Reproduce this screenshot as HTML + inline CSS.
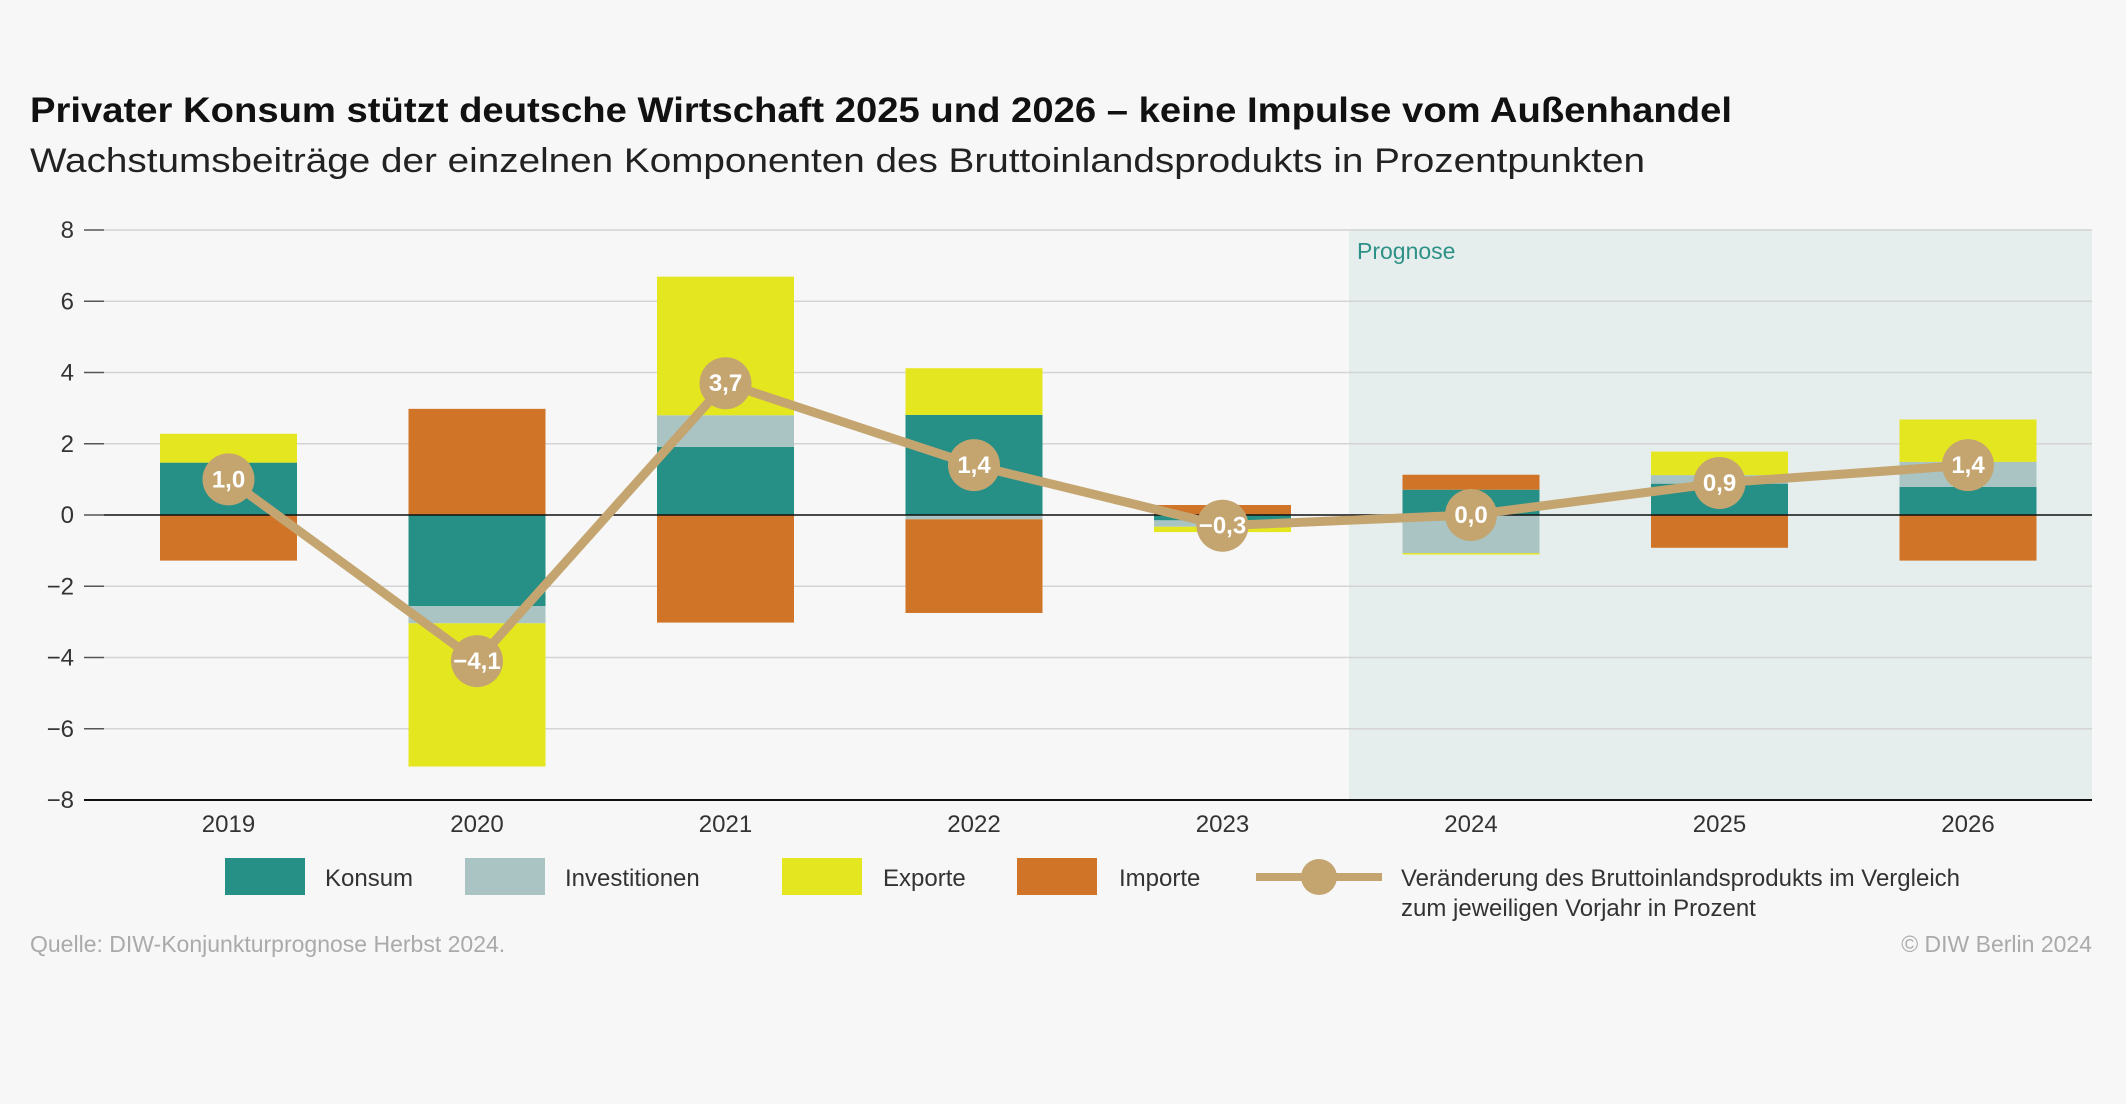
<!DOCTYPE html>
<html><head><meta charset="utf-8"><style>
body{margin:0;background:#f7f7f7;}
svg{display:block;font-family:"Liberation Sans",sans-serif;}
</style></head><body>
<svg id="chart" width="2126" height="1104" viewBox="0 0 2126 1104">
<rect width="2126" height="1104" fill="#f7f7f7"/>
<text x="30" y="122" font-size="35" font-weight="bold" fill="#111" textLength="1702" lengthAdjust="spacingAndGlyphs">Privater Konsum stützt deutsche Wirtschaft 2025 und 2026 – keine Impulse vom Außenhandel</text>
<text x="30" y="172" font-size="34" fill="#222" textLength="1615" lengthAdjust="spacingAndGlyphs">Wachstumsbeiträge der einzelnen Komponenten des Bruttoinlandsprodukts in Prozentpunkten</text>
<rect x="1349" y="230" width="743" height="570" fill="#e5eeec"/>
<text x="1357" y="259" font-size="23" fill="#2e9188">Prognose</text>
<g id="grid"></g>
<g id="bars"></g>
<g id="line"></g>
<g font-size="24" fill="#333">
<rect x="225" y="858" width="80" height="37" fill="#268f86"/>
<text x="325" y="886">Konsum</text>
<rect x="465" y="858" width="80" height="37" fill="#a9c4c3"/>
<text x="565" y="886">Investitionen</text>
<rect x="782" y="858" width="80" height="37" fill="#e4e620"/>
<text x="883" y="886">Exporte</text>
<rect x="1017" y="858" width="80" height="37" fill="#d07428"/>
<text x="1119" y="886">Importe</text>
<line x1="1256" y1="877" x2="1382" y2="877" stroke="#c4a570" stroke-width="8"/>
<circle cx="1319" cy="877" r="18" fill="#c4a570"/>
<text x="1401" y="886">Veränderung des Bruttoinlandsprodukts im Vergleich</text>
<text x="1401" y="916">zum jeweiligen Vorjahr in Prozent</text>
</g>
<text x="30" y="952" font-size="23" fill="#aaa">Quelle: DIW-Konjunkturprognose Herbst 2024.</text>
<text x="2092" y="952" font-size="23" fill="#aaa" text-anchor="end">© DIW Berlin 2024</text>
</svg>
<script>
const years=["2019","2020","2021","2022","2023","2024","2025","2026"];
const konsum=[1.47,-2.56,1.91,2.81,-0.15,0.71,0.88,0.79];
const investitionen=[0,-0.48,0.89,-0.12,-0.18,-1.07,0.24,0.7];
const exporte=[0.81,-4.02,3.89,1.31,-0.15,-0.04,0.66,1.19];
const importe=[-1.28,2.98,-3.02,-2.63,0.28,0.42,-0.92,-1.28];
const gdp=[1.0,-4.1,3.7,1.4,-0.3,0.0,0.9,1.4];
const gdpLabels=["1,0","−4,1","3,7","1,4","−0,3","0,0","0,9","1,4"];
const yTicks=[8,6,4,2,0,-2,-4,-6,-8];
const yTickLabels=["8","6","4","2","0","−2","−4","−6","−8"];

const NS="http://www.w3.org/2000/svg";
const yMin=-8,yMax=8,plotTop=230,plotBot=800,plotLeft=104,plotRight=2092;
const yScale=v=>plotBot-(v-yMin)/(yMax-yMin)*(plotBot-plotTop);
const step=248.5,x0=228.5,bw=137;
const xScale=i=>x0+i*step;
function mk(tag,attrs,parent){const e=document.createElementNS(NS,tag);for(const k in attrs)e.setAttribute(k,attrs[k]);parent.appendChild(e);return e;}
const grid=document.getElementById('grid'),bars=document.getElementById('bars'),line=document.getElementById('line');
yTicks.forEach((t,i)=>{
  if(t!==0&&t!==-8){const g=mk('line',{x1:plotLeft,x2:plotRight,y1:yScale(t),y2:yScale(t),stroke:'#d4d4d4','stroke-width':1.5},grid);
  
  }
  const tk=mk('line',{x1:84,x2:104,y1:yScale(t),y2:yScale(t),stroke:'#555','stroke-width':1.5},grid);
  
  
  const tl=mk('text',{x:74,y:yScale(t)+8,'font-size':24,'text-anchor':'end',fill:'#333'},grid);
  tl.textContent=yTickLabels[i];
  
  
});
years.forEach((yr,i)=>{
  const t=mk('text',{x:xScale(i),y:832,'font-size':24,'text-anchor':'middle',fill:'#333'},grid);
  t.textContent=yr;
  
  
});
const series=[[konsum,'#268f86','konsum'],[investitionen,'#a9c4c3','investitionen'],[exporte,'#e4e620','exporte'],[importe,'#d07428','importe']];
years.forEach((yr,i)=>{
  let pos=0,neg=0;
  series.forEach(([arr,col,nm])=>{
    const v=arr[i];if(!v)return;
    let a,b;
    if(v>0){a=pos;b=pos+v;pos=b;}else{a=neg;b=neg+v;neg=b;}
    const r=mk('rect',{x:xScale(i)-bw/2,y:Math.min(yScale(a),yScale(b)),width:bw,height:Math.abs(yScale(a)-yScale(b)),fill:col},bars);
    
    
  });
});
const zl=mk('line',{x1:plotLeft,x2:plotRight,y1:yScale(0),y2:yScale(0),stroke:'#111','stroke-width':1.5},bars);


const ax=mk('line',{x1:84,x2:plotRight,y1:yScale(-8),y2:yScale(-8),stroke:'#111','stroke-width':2},bars);


const pl=mk('polyline',{points:gdp.map((v,i)=>xScale(i)+','+yScale(v)).join(' '),fill:'none',stroke:'#c4a570','stroke-width':9,'stroke-linejoin':'round'},line);


gdp.forEach((v,i)=>{
  const c=mk('circle',{cx:xScale(i),cy:yScale(v),r:26,fill:'#c4a570'},line);
  
  
  const t=mk('text',{x:xScale(i),y:yScale(v)+8,'font-size':24,'font-weight':'bold','text-anchor':'middle',fill:'#fff'},line);
  t.textContent=gdpLabels[i];
  
  
});
</script>
</body></html>
